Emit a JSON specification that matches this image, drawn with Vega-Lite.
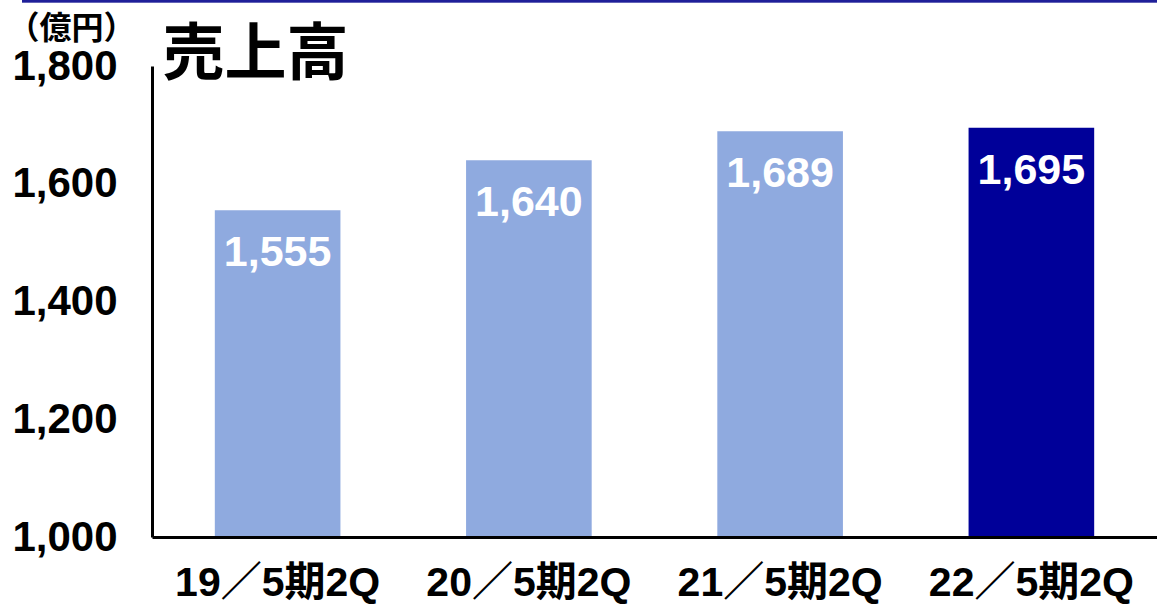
{
  "$schema": "https://vega.github.io/schema/vega-lite/v6.json",
  "autosize": "none",
  "width": 1135,
  "height": 536,
  "padding": {"left": 22, "top": 1, "right": 0, "bottom": 69},
  "background": "white",
  "config": {"view": {"stroke": null}},
  "data": {
    "values": [
      {"period": "19／5期2Q", "sales": 1555},
      {"period": "20／5期2Q", "sales": 1640},
      {"period": "21／5期2Q", "sales": 1689},
      {"period": "22／5期2Q", "sales": 1695}
    ]
  },
  "layer": [
    {
      "mark": {"type": "rule", "color": "#1f1f99", "strokeWidth": 2},
      "encoding": {
        "y": {"datum": 1910, "type": "quantitative"}
      }
    },
    {
      "encoding": {
        "x": {
          "field": "period",
          "type": "nominal",
          "sort": null,
          "scale": {"range": [130, 1135], "paddingInner": 0.5, "paddingOuter": 0.25},
          "axis": {
            "title": "売上高",
            "titleX": 140,
            "titleY": -482,
            "titleAlign": "left",
            "titleBaseline": "middle",
            "titleFont": "Noto Sans CJK JP",
            "titleFontSize": 62,
            "titleFontWeight": "bold",
            "titleColor": "#000000",
            "orient": "bottom",
            "labelFont": "Liberation Sans, Noto Sans CJK JP",
            "labelFontSize": 41,
            "labelFontWeight": "bold",
            "labelColor": "#000000",
            "labelAngle": 0,
            "labelPadding": 46,
            "labelBaseline": "middle",
            "labelLimit": 0,
            "ticks": false,
            "tickSize": 0,
            "domainColor": "#000000",
            "domainWidth": 3,
            "zindex": 1
          }
        },
        "y": {
          "field": "sales",
          "type": "quantitative",
          "scale": {"domain": [1000, 1800], "range": [536, 65], "nice": false, "zero": false},
          "axis": {
            "title": "（億円）",
            "titleAngle": 0,
            "titleX": -81,
            "titleY": 27,
            "titleAlign": "center",
            "titleBaseline": "middle",
            "titleFont": "Noto Sans CJK JP",
            "titleFontSize": 32,
            "titleFontWeight": "bold",
            "titleColor": "#000000",
            "values": [1000, 1200, 1400, 1600, 1800],
            "format": ",d",
            "labelFont": "Liberation Sans",
            "labelFontSize": 42,
            "labelFontWeight": "bold",
            "labelColor": "#000000",
            "labelPadding": 35,
            "ticks": false,
            "tickSize": 0,
            "grid": false,
            "domainColor": "#000000",
            "domainWidth": 3,
            "offset": -130,
            "zindex": 1
          }
        }
      },
      "layer": [
        {
          "mark": {"type": "bar"},
          "encoding": {
            "y2": {"datum": 1000},
            "color": {
              "condition": {"test": "datum.period === '22／5期2Q'", "value": "#000099"},
              "value": "#8faadf"
            }
          }
        },
        {
          "mark": {
            "type": "text",
            "color": "white",
            "font": "Liberation Sans",
            "fontSize": 43,
            "fontWeight": "bold",
            "baseline": "middle",
            "dy": 43
          },
          "encoding": {
            "text": {"field": "sales", "type": "quantitative", "format": ",d"}
          }
        }
      ]
    }
  ]
}
